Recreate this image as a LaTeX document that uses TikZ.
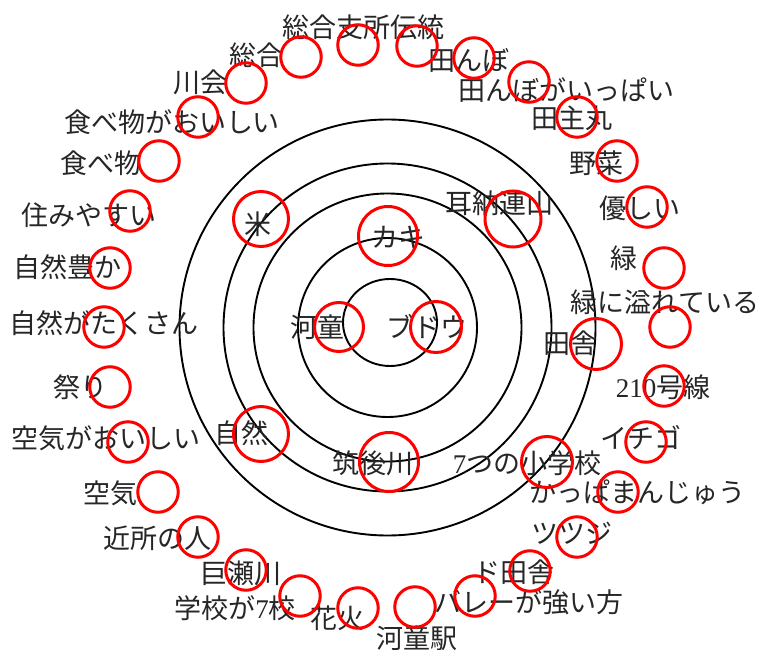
\documentclass[tikz,border=0pt]{standalone}
\usepackage{fontspec}
\setmainfont{Noto Sans CJK JP}
\newfontfamily\dig{Liberation Serif}
\usetikzlibrary{shapes.geometric}
\begin{document}
\begin{tikzpicture}[x=1pt,y=-1pt,
  ring/.style={draw=black, line width=1.9pt, circle, inner sep=0pt},
  lbl/.style={inner sep=0pt, anchor=center, text=black!85, font=\fontsize{27}{27}\selectfont},
  rc/.style={draw=red, line width=3pt, circle, inner sep=0pt, minimum size=#1},
  rc/.default=40.5pt]
\fill[white] (0,0) rectangle (761,650);
\useasboundingbox (0,0) rectangle (761,650);
% concentric rings
\node[draw=black, line width=1.9pt, ellipse, inner sep=0pt, minimum width=94pt, minimum height=87pt] (r1) at (390,322.5) {};
\node[ring, minimum size=179pt] (r2) at (387.5,327.5) {};
\node[ring, minimum size=268pt] (r3) at (387.5,327.5) {};
\node[ring, minimum size=328pt] (r4) at (387.5,327.5) {};
\node[ring, minimum size=416pt] (r5) at (387.5,327.5) {};
% inner labels
\node[lbl] (t米) at (258,224) {米};
\node[lbl] (tカキ) at (398,237) {カキ};
\node[lbl] (t耳納) at (499,203) {耳納連山};
\node[lbl] (t河童) at (317,327) {河童};
\node[lbl] (tブドウ) at (427,327) {ブドウ};
\node[lbl] (t田舎) at (570,343) {田舎};
\node[lbl] (t自然) at (241,433) {自然};
\node[lbl] (t筑後川) at (373,463) {筑後川};
\node[lbl] (t小学校) at (527,463) {{\dig 7}つの小学校};
% outer labels
\node[lbl] (o1) at (363,27) {総合支所伝統};
\node[lbl] (o2) at (469,60) {田んぼ};
\node[lbl] (o3) at (566,90) {田んぼがいっぱい};
\node[lbl] (o4) at (572,118) {田主丸};
\node[lbl] (o5) at (596,163) {野菜};
\node[lbl] (o6) at (640,208) {優しい};
\node[lbl] (o7) at (624,258) {緑};
\node[lbl] (o8) at (665,302) {緑に溢れている};
\node[lbl] (o9) at (663,387) {{\dig 210}号線};
\node[lbl] (o10) at (641,438) {イチゴ};
\node[lbl] (o11) at (637,492) {かっぱまんじゅう};
\node[lbl] (o12) at (572,533) {ツツジ};
\node[lbl] (o13) at (514,572) {ド田舎};
\node[lbl] (o14) at (529,602) {バレーが強い方};
\node[lbl] (o15) at (417,638) {河童駅};
\node[lbl] (o16) at (337,618) {花火};
\node[lbl] (o17) at (235,608) {学校が{\dig 7}校};
\node[lbl] (o18) at (241,573) {巨瀬川};
\node[lbl] (o19) at (157,538) {近所の人};
\node[lbl] (o20) at (110,493) {空気};
\node[lbl] (o21) at (106,438) {空気がおいしい};
\node[lbl] (o22) at (80,387) {祭り};
\node[lbl] (o23) at (104,323) {自然がたくさん};
\node[lbl] (o24) at (67,267) {自然豊か};
\node[lbl] (o25) at (89,215) {住みやすい};
\node[lbl] (o26) at (101,163) {食べ物};
\node[lbl] (o27) at (172,122) {食べ物がおいしい};
\node[lbl] (o28) at (200,82) {川会};
\node[lbl] (o29) at (256,55) {総合};
% inner red circles
\node[rc=55pt] (c米) at (261,219) {};
\node[rc=59pt] (cカキ) at (388,236) {};
\node[rc=56pt] (c耳納) at (513,219) {};
\node[rc=49pt] (c河童) at (339,327) {};
\node[rc=51pt] (cブドウ) at (436,327) {};
\node[rc=51pt] (c田舎) at (596,344) {};
\node[rc=55pt] (c自然) at (261,434) {};
\node[rc=59pt] (c筑後川) at (389,462) {};
\node[rc=51pt] (c小学校) at (547,462) {};
% outer red circles
\node[rc] (p0) at (358,45) {};
\node[rc] (p1) at (417,46) {};
\node[rc] (p2) at (474,58) {};
\node[rc] (p3) at (529,82) {};
\node[rc] (p4) at (577,117) {};
\node[rc] (p5) at (617,161) {};
\node[rc] (p6) at (647,207) {};
\node[rc] (p7) at (664,268) {};
\node[rc] (p8) at (670,327) {};
\node[rc] (p9) at (664,386) {};
\node[rc] (p10) at (646,442) {};
\node[rc] (p11) at (618,492) {};
\node[rc] (p12) at (577,537) {};
\node[rc] (p13) at (530,571) {};
\node[rc] (p14) at (475,596) {};
\node[rc] (p15) at (415,607) {};
\node[rc] (p16) at (358,608) {};
\node[rc] (p17) at (300,596) {};
\node[rc] (p18) at (246,570) {};
\node[rc] (p19) at (198,537) {};
\node[rc] (p20) at (158,492) {};
\node[rc] (p21) at (128,442) {};
\node[rc] (p22) at (110,387) {};
\node[rc] (p23) at (104,327) {};
\node[rc] (p24) at (110,268) {};
\node[rc] (p25) at (130,211) {};
\node[rc] (p26) at (159,161) {};
\node[rc] (p27) at (198,117) {};
\node[rc] (p28) at (246,83) {};
\node[rc] (p29) at (301,57) {};
\end{tikzpicture}
\end{document}
